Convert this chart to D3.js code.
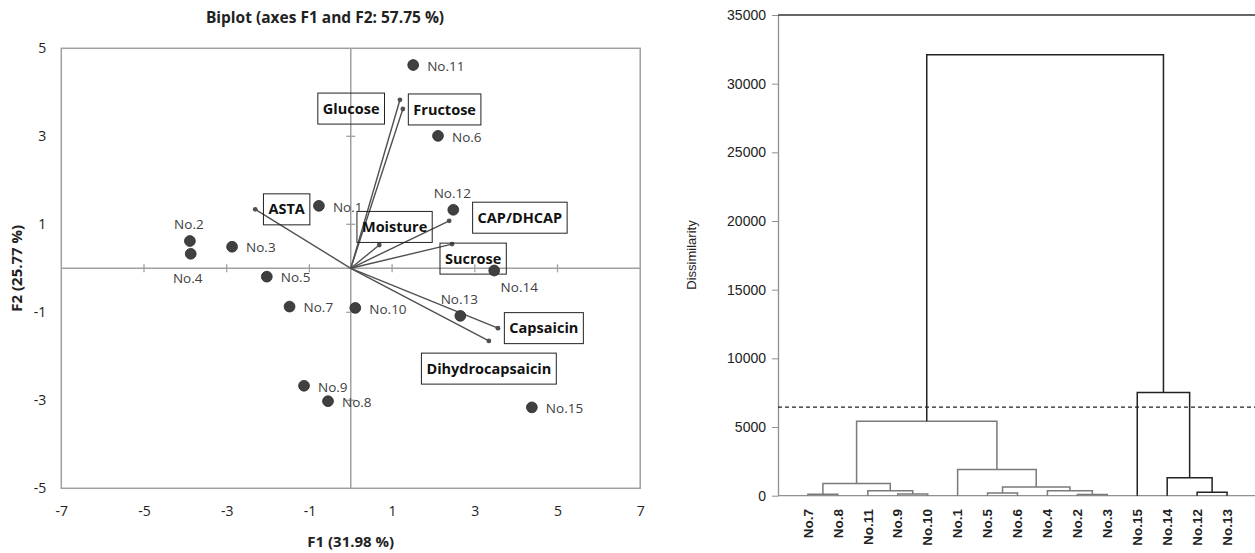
<!DOCTYPE html>
<html lang="en">
<head>
<meta charset="UTF-8">
<script src="https://d3js.org/d3.v7.min.js"></script>
<title>Biplot and dendrogram</title>
<style>
  body { margin: 0; background: #fff; }
  .bi text { font-family: "Open Sans", "Noto Sans", sans-serif; }
  .dg text { font-family: "Liberation Sans", Arial, sans-serif; }
</style>
</head>
<body>
<script>
// ---- biplot data (F1, F2) ----
var obsNames = ["No.1","No.2","No.3","No.4","No.5","No.6","No.7","No.8","No.9","No.10","No.11","No.12","No.13","No.14","No.15"];
var obsF1 = [-0.77,-3.89,-2.87,-3.87,-2.03, 2.11,-1.48,-0.55,-1.13, 0.11, 1.51, 2.48, 2.65, 3.47, 4.38];
var obsF2 = [ 1.42, 0.62, 0.49, 0.33,-0.19, 3.01,-0.87,-3.02,-2.67,-0.90, 4.62, 1.33,-1.08,-0.05,-3.16];
// where the name sits next to each point
var obsLabelSide = ["r","t","r","b","r","r","r","r","r","r","r","t","t","br","r"];

var varNames = ["ASTA","Glucose","Fructose","Moisture","CAP/DHCAP","Sucrose","Capsaicin","Dihydrocapsaicin"];
var varF1 = [-2.31, 1.19, 1.26, 0.69, 2.38, 2.45, 3.56, 3.34];
var varF2 = [ 1.34, 3.83, 3.62, 0.53, 1.08, 0.55,-1.36,-1.65];
// label box centres, in axis units
var varLabelF1 = [-1.55, 0.01, 2.27, 1.06, 4.09, 2.96, 4.67, 3.34];
var varLabelF2 = [ 1.34, 3.63, 3.61, 0.94, 1.15, 0.22,-1.36,-2.28];

var biTicks = [-7,-5,-3,-1,1,3,5,7];
var biYTicks = [-5,-3,-1,1,3,5];

// ---- dendrogram data ----
var leaves = ["No.7","No.8","No.11","No.9","No.10","No.1","No.5","No.6","No.4","No.2","No.3","No.15","No.14","No.12","No.13"];
// [left, right, height]; "#k" means merge k
var merges = [
  ["No.7","No.8",100],
  ["No.9","No.10",120],
  ["No.11","#1",360],
  ["#0","#2",880],
  ["No.2","No.3",80],
  ["No.4","#4",360],
  ["No.5","No.6",190],
  ["#6","#5",640],
  ["No.1","#7",1900],
  ["#3","#8",5420],
  ["No.12","No.13",250],
  ["No.14","#10",1300],
  ["No.15","#11",7520],
  ["#9","#12",32100]
];
var mergeGroup = [1,1,1,1,1,1,1,1,1,1,2,2,2,2];
var cutLevel = 6450;
var dTicks = [0,5000,10000,15000,20000,25000,30000,35000];

var plain = function(d){ return String(d); };

var svg = d3.select("body").append("svg").attr("width",1255).attr("height",553);

// ================= biplot =================
var bi = svg.append("g").attr("class","bi");
var x = d3.scaleLinear().domain([-7,7]).range([61.3,640.2]);
var y = d3.scaleLinear().domain([-5,5]).range([488.3,48.3]);

bi.append("rect").attr("x",x(-7)).attr("y",y(5))
  .attr("width",x(7)-x(-7)).attr("height",y(-5)-y(5))
  .attr("fill","none").attr("stroke","#a0a0a0").attr("stroke-width",1.5);

bi.append("line").attr("x1",x(-7)).attr("x2",x(7)).attr("y1",y(0)).attr("y2",y(0))
  .attr("stroke","#a0a0a0").attr("stroke-width",1.5);
bi.append("line").attr("x1",x(0)).attr("x2",x(0)).attr("y1",y(5)).attr("y2",y(-5))
  .attr("stroke","#a0a0a0").attr("stroke-width",1.5);

bi.selectAll(".xt").data(biTicks.filter(function(d){return Math.abs(d)<7;})).join("line")
  .attr("x1",function(d){return x(d);}).attr("x2",function(d){return x(d);})
  .attr("y1",y(0)-4).attr("y2",y(0)+4).attr("stroke","#a0a0a0").attr("stroke-width",1.3);
bi.selectAll(".yt").data(biYTicks.filter(function(d){return Math.abs(d)<5;})).join("line")
  .attr("y1",function(d){return y(d);}).attr("y2",function(d){return y(d);})
  .attr("x1",x(0)-4.5).attr("x2",x(0)+4.5).attr("stroke","#a0a0a0").attr("stroke-width",1.3);

var ax = bi.append("g").attr("transform","translate(0,"+y(-5)+")")
  .call(d3.axisBottom(x).tickValues(biTicks).tickFormat(plain).tickSize(0).tickPadding(18));
var ay = bi.append("g").attr("transform","translate("+x(-7)+",0)")
  .call(d3.axisLeft(y).tickValues(biYTicks).tickFormat(plain).tickSize(0).tickPadding(15));
[ax, ay].forEach(function(a){
  a.select(".domain").remove();
  a.selectAll("text").attr("font-size",14).attr("fill","#222")
    .attr("font-family","'Open Sans', sans-serif");
});

// vectors
var vars = varNames.map(function(n,i){
  return {name:n, f1:varF1[i], f2:varF2[i], lf1:varLabelF1[i], lf2:varLabelF2[i]};
});
bi.selectAll(".vec").data(vars).join("line")
  .attr("x1",x(0)).attr("y1",y(0))
  .attr("x2",function(d){return x(d.f1);}).attr("y2",function(d){return y(d.f2);})
  .attr("stroke","#505050").attr("stroke-width",1.4);
bi.selectAll(".vend").data(vars).join("circle")
  .attr("cx",function(d){return x(d.f1);}).attr("cy",function(d){return y(d.f2);})
  .attr("r",2.4).attr("fill","#505050");

// variable boxes
var vl = bi.selectAll(".vlab").data(vars).join("g")
  .attr("transform",function(d){return "translate("+x(d.lf1)+","+y(d.lf2)+")";});
vl.append("text").text(function(d){return d.name;})
  .attr("text-anchor","middle").attr("dy","0.35em")
  .attr("font-size",14.5).attr("font-weight","bold").attr("fill","#111");
vl.each(function(){
  var g = d3.select(this);
  var bb = g.select("text").node().getBBox();
  g.insert("rect","text").attr("x",bb.x-5).attr("y",-15.5)
    .attr("width",bb.width+10).attr("height",31)
    .attr("fill","none").attr("stroke","#222").attr("stroke-width",1);
});

// observations
var obs = obsNames.map(function(n,i){
  return {name:n, f1:obsF1[i], f2:obsF2[i], side:obsLabelSide[i]};
});
bi.selectAll(".pt").data(obs).join("circle")
  .attr("cx",function(d){return x(d.f1);}).attr("cy",function(d){return y(d.f2);})
  .attr("r",5.4).attr("fill","#404040").attr("stroke","#2a2a2a").attr("stroke-width",0.8);

var off = {r:[14,1,"start"], t:[-1,-17,"middle"], b:[-3,24,"middle"], br:[25,17,"middle"]};
bi.selectAll(".ptl").data(obs).join("text")
  .attr("x",function(d){return x(d.f1)+off[d.side][0];})
  .attr("y",function(d){return y(d.f2)+off[d.side][1];})
  .attr("text-anchor",function(d){return off[d.side][2];})
  .attr("dy","0.35em").attr("font-size",13.5).attr("fill","#404040")
  .text(function(d){return d.name;});

bi.append("text").attr("x",325).attr("y",23).attr("text-anchor","middle")
  .attr("font-size",15.5).attr("font-weight","bold").attr("fill","#222")
  .text("Biplot (axes F1 and F2: 57.75 %)");
bi.append("text").attr("x",x(0)).attr("y",547).attr("text-anchor","middle")
  .attr("font-size",15).attr("font-weight","bold").attr("fill","#222")
  .text("F1 (31.98 %)");
bi.append("text").attr("transform","translate(22,"+y(0)+") rotate(-90)")
  .attr("text-anchor","middle")
  .attr("font-size",15).attr("font-weight","bold").attr("fill","#222")
  .text("F2 (25.77 %)");

// ================= dendrogram =================
var dg = svg.append("g").attr("class","dg");
var xd = d3.scalePoint().domain(leaves).range([778,1257]).padding(1);
var yd = d3.scaleLinear().domain([0,35000]).range([495.7,15]);

dg.append("line").attr("x1",778).attr("x2",1255).attr("y1",yd(0)).attr("y2",yd(0))
  .attr("stroke","#909090").attr("stroke-width",1.3);

var yAx = dg.append("g").attr("transform","translate(778,0)")
  .call(d3.axisLeft(yd).tickValues(dTicks).tickFormat(plain).tickSize(6).tickSizeOuter(0).tickPadding(6));
yAx.select(".domain").attr("stroke","#909090").attr("stroke-width",1.3);
yAx.selectAll(".tick line").attr("stroke","#909090");
yAx.selectAll("text").attr("font-size",14).attr("fill","#222")
  .attr("font-family","'Liberation Sans', Arial, sans-serif");

dg.append("line").attr("x1",778).attr("x2",1255).attr("y1",yd(35000)).attr("y2",yd(35000))
  .attr("stroke","#333").attr("stroke-width",1.5);

// node positions
var nodes = merges.map(function(){return null;});
function pos(key){
  if (key[0] === "#") return nodes[+key.slice(1)];
  return {x: xd(key), h: 0};
}
merges.forEach(function(m,i){
  var a = pos(m[0]), b = pos(m[1]);
  nodes[i] = {x:(a.x+b.x)/2, h:m[2], a:a, b:b, g:mergeGroup[i]};
});
dg.selectAll(".link").data(nodes).join("path")
  .attr("d",function(d){
    return "M"+d.a.x+","+yd(d.a.h)+"V"+yd(d.h)+"H"+d.b.x+"V"+yd(d.b.h);
  })
  .attr("fill","none")
  .attr("stroke",function(d){return d.g===1 ? "#7a7a7a" : "#222";})
  .attr("stroke-width",1.5);

dg.append("line").attr("x1",778).attr("x2",1255).attr("y1",yd(cutLevel)).attr("y2",yd(cutLevel))
  .attr("stroke","#222").attr("stroke-width",1.3).attr("stroke-dasharray","4,3");

dg.selectAll(".leaf").data(leaves).join("text")
  .attr("transform",function(d){return "translate("+xd(d)+",509) rotate(-90)";})
  .attr("text-anchor","end").attr("dy","0.35em")
  .attr("font-size",13.5).attr("font-weight","bold").attr("fill","#222")
  .text(function(d){return d;});

dg.append("text").attr("transform","translate(696,255) rotate(-90)")
  .attr("text-anchor","middle").attr("font-size",13).attr("fill","#222")
  .text("Dissimilarity");
</script>
</body>
</html>
